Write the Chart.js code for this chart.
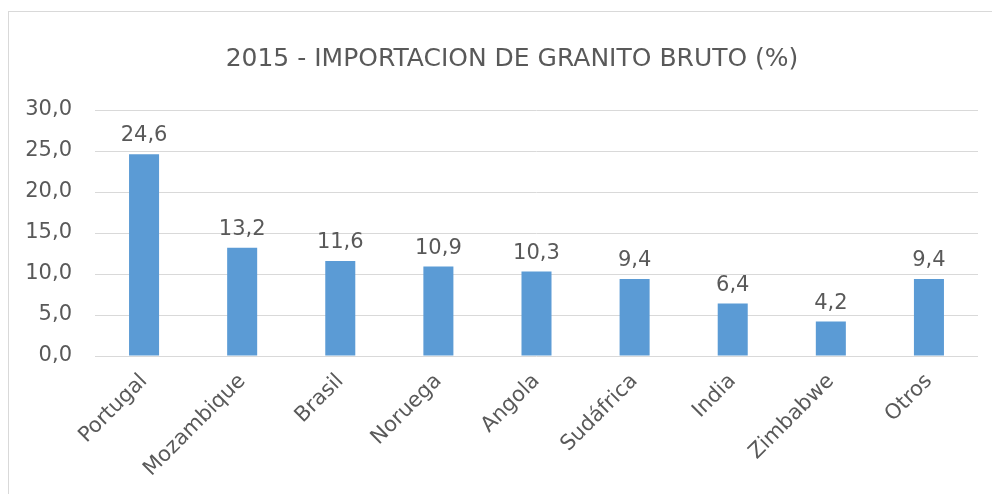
<!DOCTYPE html>
<html>
<head>
<meta charset="utf-8">
<script src="https://cdn.jsdelivr.net/npm/chart.js@4"></script>
<style>
    html, body { margin: 0; padding: 0; background: #ffffff; }
    #wrap { position: relative; width: 992px; height: 494px; }
</style>
</head>
<body>
<div id="wrap"><canvas id="granito"></canvas></div>
<script>
var paises = ['Portugal', 'Mozambique', 'Brasil', 'Noruega', 'Angola', 'Sudáfrica', 'India', 'Zimbabwe', 'Otros'];
var porcentajes = [24.6, 13.2, 11.6, 10.9, 10.3, 9.4, 6.4, 4.2, 9.4];
var tituloGrafico = '2015 - IMPORTACION DE GRANITO BRUTO (%)';

const FUENTE = "'DejaVu Sans', Tahoma, sans-serif";
const GRIS_TEXTO = '#595959';
const GRIS_LINEA = '#d9d9d9';

function formatoComa(v) {
    return Number(v).toFixed(1).replace('.', ',');
}

// marco del area del grafico (se corta por la derecha y abajo)
const marco = {
    id: 'marco',
    beforeDraw: function (chart) {
        const ctx = chart.ctx;
        ctx.save();
        ctx.strokeStyle = GRIS_LINEA;
        ctx.lineWidth = 1;
        ctx.strokeRect(8.5, 11.5, 1100, 1100);
        ctx.restore();
    }
};

// el titulo original esta centrado sobre un marco mas ancho que la imagen
const moverTitulo = {
    id: 'moverTitulo',
    afterLayout: function (chart) {
        if (chart.titleBlock) {
            chart.titleBlock.left += 18;
            chart.titleBlock.right += 18;
        }
    }
};

// etiquetas de valor encima de cada barra
const etiquetas = {
    id: 'etiquetas',
    afterDatasetsDraw: function (chart) {
        const ctx = chart.ctx;
        ctx.save();
        ctx.font = '21px ' + FUENTE;
        ctx.fillStyle = GRIS_TEXTO;
        ctx.textAlign = 'center';
        ctx.textBaseline = 'alphabetic';
        chart.getDatasetMeta(0).data.forEach(function (bar, i) {
            ctx.fillText(formatoComa(chart.data.datasets[0].data[i]), bar.x, bar.y - 13);
        });
        ctx.restore();
    }
};

const config = {
    type: 'bar',
    data: {
        labels: paises,
        datasets: [
            {
                label: 'Importación',
                backgroundColor: '#5b9bd5',
                borderWidth: 0,
                categoryPercentage: 1,
                barPercentage: 0.306,
                data: porcentajes
            }
        ]
    },
    options: {
        responsive: true,
        maintainAspectRatio: false,
        animation: false,
        layout: {
            padding: { left: 10, right: 14, top: 0, bottom: 0 }
        },
        scales: {
            x: {
                grid: { display: false, drawTicks: false },
                border: { display: false },
                ticks: {
                    color: GRIS_TEXTO,
                    font: { family: FUENTE, size: 21 },
                    minRotation: 45,
                    maxRotation: 45,
                    padding: 13
                },
                afterFit: function (scale) {
                    scale.height = 138;
                }
            },
            y: {
                min: 0,
                max: 30,
                grid: { color: GRIS_LINEA, lineWidth: 1, drawTicks: false },
                border: { display: false },
                ticks: {
                    stepSize: 5,
                    color: GRIS_TEXTO,
                    font: { family: FUENTE, size: 21 },
                    padding: 23,
                    callback: function (value) {
                        return formatoComa(value);
                    }
                },
                afterFit: function (scale) {
                    scale.width = 85;
                }
            }
        },
        plugins: {
            legend: { display: false },
            tooltip: { enabled: false },
            title: {
                display: true,
                text: tituloGrafico,
                color: GRIS_TEXTO,
                font: { family: FUENTE, size: 25, weight: 'normal' },
                padding: { top: 44, bottom: 36 }
            }
        }
    },
    plugins: [marco, moverTitulo, etiquetas]
};

const grafico = new Chart(document.getElementById('granito'), config);
</script>
</body>
</html>
